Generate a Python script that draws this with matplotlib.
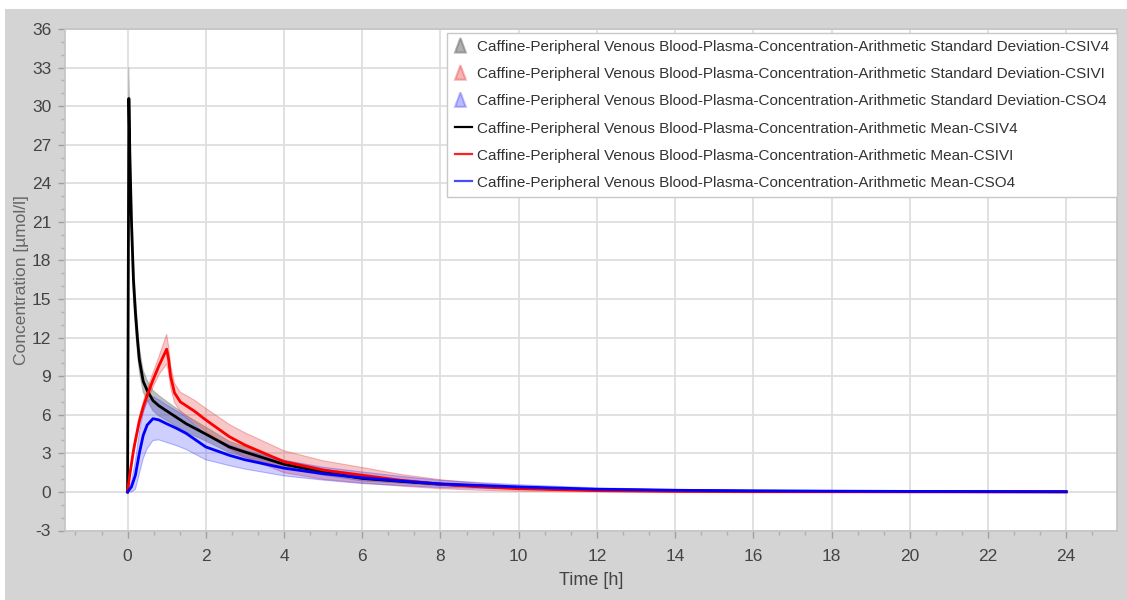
import matplotlib
matplotlib.use("Agg")
import matplotlib.pyplot as plt
import numpy as np
from matplotlib.patches import Polygon, Rectangle
from matplotlib.legend_handler import HandlerPatch
from matplotlib.lines import Line2D
from matplotlib.ticker import MultipleLocator

plt.rcParams["axes.unicode_minus"] = False

# ---------------- data ----------------
time_csiv4 = [0, 0.033, 0.06, 0.1, 0.15, 0.2, 0.25, 0.3, 0.4, 0.5, 0.65, 0.8, 1.0, 1.25, 1.5,
              2, 2.6, 3, 4, 5, 6, 7, 8, 9, 10, 12, 14, 16, 18, 20, 22, 24]
mean_csiv4 = [0, 30.6, 26.0, 21.0, 16.5, 14.0, 12.0, 10.3, 8.6, 7.9, 7.1, 6.7, 6.3, 5.8, 5.3,
              4.5, 3.5, 3.1, 2.15, 1.55, 1.05, 0.82, 0.6, 0.45, 0.32, 0.17, 0.1, 0.06, 0.04, 0.03, 0.02, 0.01]
sd_csiv4 = [0, 2.4, 2.2, 1.9, 1.5, 1.3, 1.1, 0.95, 0.85, 0.8, 0.8, 0.8, 0.75, 0.7, 0.65,
            0.55, 0.45, 0.42, 0.32, 0.25, 0.2, 0.16, 0.13, 0.1, 0.08, 0.05, 0.03, 0.02, 0.01, 0.01, 0.01, 0.005]

time_csivi = [0, 0.05, 0.1, 0.15, 0.2, 0.3, 0.4, 0.5, 0.65, 0.8, 1.0, 1.05, 1.1, 1.2, 1.35, 1.5,
              1.7, 2, 2.6, 3, 4, 5, 6, 7, 8, 9, 10, 12, 14, 16, 18, 20, 22, 24]
mean_csivi = [0, 1.2, 2.2, 3.2, 4.0, 5.5, 6.6, 7.5, 8.7, 9.8, 11.1, 10.3, 9.0, 7.7, 7.0, 6.7,
              6.3, 5.6, 4.3, 3.65, 2.35, 1.7, 1.3, 0.9, 0.6, 0.4, 0.25, 0.1, 0.04, 0.015, 0.01, 0.005, 0.0, 0.0]
sd_csivi = [0, 0.1, 0.2, 0.25, 0.3, 0.35, 0.4, 0.45, 0.55, 0.7, 1.15, 1.0, 0.85, 0.75, 0.75, 0.8,
            0.85, 0.9, 0.95, 0.95, 0.85, 0.72, 0.6, 0.45, 0.35, 0.27, 0.2, 0.1, 0.05, 0.02, 0.01, 0.005, 0.0, 0.0]

time_cso4 = [0, 0.1, 0.2, 0.3, 0.4, 0.5, 0.65, 0.8, 1.0, 1.25, 1.5, 2, 2.6, 3, 4, 5, 6, 7, 8,
             9, 10, 12, 14, 16, 18, 20, 22, 24]
mean_cso4 = [0, 0.4, 1.3, 3.0, 4.4, 5.2, 5.7, 5.6, 5.3, 4.95, 4.55, 3.5, 2.85, 2.5, 1.85, 1.42, 1.1,
             0.85, 0.62, 0.5, 0.39, 0.21, 0.13, 0.08, 0.06, 0.04, 0.03, 0.02]
sd_cso4 = [0, 0.4, 1.1, 1.6, 1.8, 1.85, 1.7, 1.55, 1.45, 1.35, 1.25, 1.0, 0.8, 0.72, 0.6, 0.5, 0.45,
           0.35, 0.28, 0.22, 0.17, 0.1, 0.06, 0.04, 0.03, 0.02, 0.015, 0.01]

series_names = ["CSIV4", "CSIVI", "CSO4"]
series_colors = ["black", "red", "blue"]
band_colors = ["#707070", "#e83a3a", "#3c3cff"]
band_alphas = [0.45, 0.28, 0.25]
legend_line_colors = ["black", "#ff2020", "#4a4aff"]
prefix = "Caffine-Peripheral Venous Blood-Plasma-Concentration-Arithmetic "

x_ticks = list(range(0, 25, 2))
y_ticks = list(range(-3, 37, 3))

# ---------------- figure ----------------
FONT = ["Liberation Sans", "DejaVu Sans"]
fig = plt.figure(figsize=(11.27, 6.0), dpi=100, facecolor="white")
fig.patches.append(Rectangle((5 / 1127, 0), 1 - 5 / 1127, 1 - 9 / 600,
                             transform=fig.transFigure, facecolor="#d4d4d4",
                             edgecolor="none", zorder=-10))

ax = fig.add_axes([65 / 1127, 1 - 530.5 / 600, (1117 - 65) / 1127, (530.5 - 29) / 600])
ax.set_facecolor("white")

times = [time_csiv4, time_csivi, time_cso4]
means = [mean_csiv4, mean_csivi, mean_cso4]
sds = [sd_csiv4, sd_csivi, sd_cso4]

for t, m, s, bc, ba in zip(times, means, sds, band_colors, band_alphas):
    t = np.array(t); m = np.array(m); s = np.array(s)
    ax.fill_between(t, m - s, m + s, facecolor=bc, alpha=ba, edgecolor="none", zorder=2)
    ax.plot(t, m + s, color=bc, alpha=0.35, lw=0.8, zorder=2)
    ax.plot(t, m - s, color=bc, alpha=0.35, lw=0.8, zorder=2)

for t, m, c in zip(times, means, series_colors):
    ax.plot(t, m, color=c, lw=2.0, zorder=3, solid_joinstyle="round")

ax.set_xlim(-1.6, 25.3)
ax.set_ylim(-3, 36)
ax.set_xticks(x_ticks)
ax.set_yticks(y_ticks)
ax.xaxis.set_minor_locator(MultipleLocator(2 / 3))
ax.yaxis.set_minor_locator(MultipleLocator(1))
ax.grid(True, which="major", color="#dedede", lw=1.3, zorder=0)
ax.set_axisbelow(True)
for sp in ax.spines.values():
    sp.set_color("#c4c4c4")
    sp.set_linewidth(1.2)

ax.tick_params(axis="both", which="major", length=5, width=1, color="#a0a0a0",
               labelcolor="#444444", labelsize=12.5)
ax.tick_params(axis="both", which="minor", length=3, width=1, color="#b0b0b0")
ax.tick_params(axis="x", which="major", pad=8)
ax.tick_params(axis="y", which="major", pad=5)
for lab in ax.get_xticklabels() + ax.get_yticklabels():
    lab.set_family(FONT)

ax.set_xlabel("Time [h]", family=FONT, fontsize=13, color="#444444", labelpad=6)
ax.set_ylabel("Concentration [µmol/l]", family=FONT, fontsize=12.5, color="#666666")
ax.yaxis.set_label_coords(-36 / 1052, 0.5)


# ---------------- legend ----------------
def make_triangle(legend, orig_handle, xdescent, ydescent, width, height, fontsize):
    w = height * 1.0
    x0 = -xdescent
    y0 = -ydescent - 1
    return Polygon([[x0, y0], [x0 + w / 2, y0 + height * 1.35], [x0 + w, y0]], closed=True)


handles = []
labels = []
for name, bc, ba in zip(series_names, band_colors, band_alphas):
    p = Polygon([[0, 0], [1, 1], [2, 0]], closed=True, facecolor=bc, alpha=min(1, ba + 0.1),
                edgecolor=bc, lw=1.5)
    handles.append(p)
    labels.append(prefix + "Standard Deviation-" + name)
for name, lc in zip(series_names, legend_line_colors):
    handles.append(Line2D([], [], color=lc, lw=1.6))
    labels.append(prefix + "Mean-" + name)

leg = ax.legend(handles, labels, loc="upper right", bbox_to_anchor=(1.0, 0.993),
                handler_map={Polygon: HandlerPatch(patch_func=make_triangle)},
                prop={"family": FONT, "size": 11.0}, labelcolor="#333333",
                frameon=True, fancybox=False, framealpha=1, edgecolor="#c8c8c8",
                handlelength=1.1, handletextpad=0.35, labelspacing=0.86,
                borderpad=0.5, borderaxespad=0.0)
leg.get_frame().set_linewidth(1.0)
leg.set_zorder(5)

fig.savefig("out.png", dpi=100, facecolor=fig.get_facecolor())
